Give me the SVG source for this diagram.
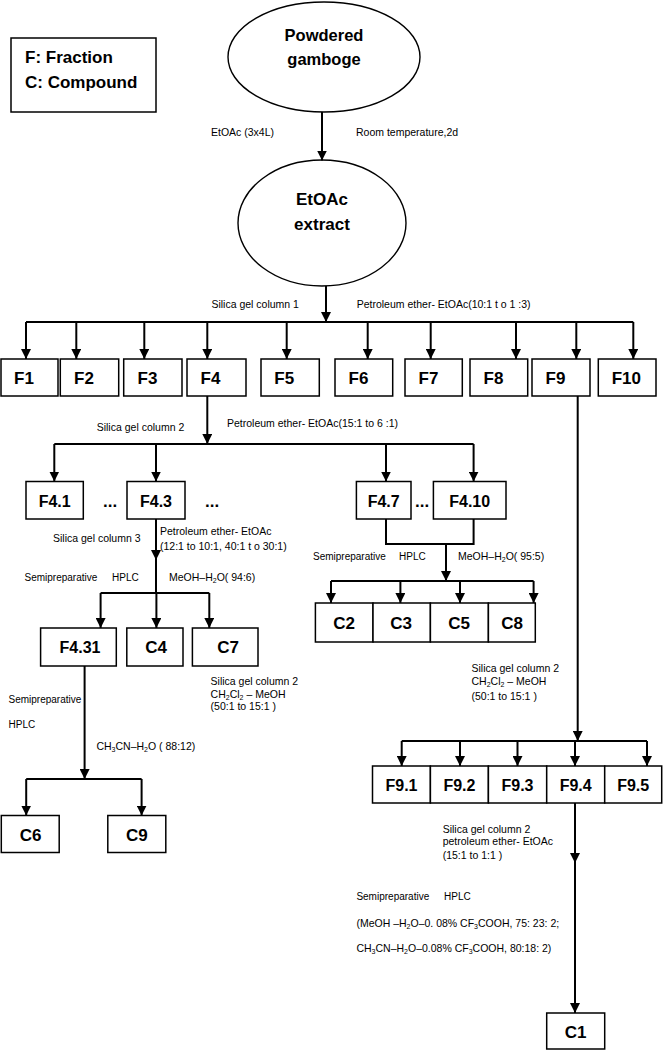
<svg xmlns="http://www.w3.org/2000/svg" width="663" height="1051" viewBox="0 0 663 1051">
<style>
.bx{fill:#fff;stroke:#000;stroke-width:1.5}
.el{fill:#fff;stroke:#000;stroke-width:1.4}
.ln{fill:none;stroke:#000;stroke-width:2}
.ar{fill:none;stroke:#000;stroke-width:2;marker-end:url(#ah)}
.big{font-family:"Liberation Sans",Arial,sans-serif;font-weight:bold;font-size:17px;fill:#000}
.mid{font-family:"Liberation Sans",Arial,sans-serif;font-weight:bold;font-size:16px;fill:#000;text-anchor:middle}
.cb{font-family:"Liberation Sans",Arial,sans-serif;font-weight:bold;font-size:17px;fill:#000;text-anchor:middle}
.sm{font-family:"Liberation Sans",Arial,sans-serif;font-size:10.5px;fill:#000}
.sp{font-family:"Liberation Sans",Arial,sans-serif;font-size:10px;fill:#000}
.sub{font-size:7px}
</style>
<defs>
<marker id="ah" viewBox="0 0 10 10" refX="10" refY="5" markerWidth="10" markerHeight="10" markerUnits="userSpaceOnUse" orient="auto">
<path d="M0,0 L10,5 L0,10 z" fill="#000"/>
</marker>
</defs>

<g id="legend">
<rect class="bx" x="11" y="38" width="145" height="74"/>
<text class="big" x="25" y="63">F: Fraction</text>
<text class="big" x="25" y="88">C: Compound</text>
</g>

<g id="powdered">
<ellipse class="el" cx="324" cy="57" rx="96" ry="55"/>
<text class="cb" x="324" y="41" style="font-size:16.5px">Powdered</text>
<text class="cb" x="324" y="65" style="font-size:16.5px">gamboge</text>
</g>

<g id="extract">
<ellipse class="el" cx="322" cy="223" rx="84" ry="63"/>
<text class="cb" x="322" y="205">EtOAc</text>
<text class="cb" x="322" y="230">extract</text>
</g>

<g id="F-row">
<rect class="bx" x="1" y="359" width="57" height="37"/><text class="big" x="14" y="384">F1</text>
<rect class="bx" x="60.3" y="359" width="58.4" height="37"/><text class="big" x="74" y="384">F2</text>
<rect class="bx" x="123.7" y="359" width="58.3" height="37"/><text class="big" x="137.5" y="384">F3</text>
<rect class="bx" x="187" y="359" width="59" height="37"/><text class="big" x="200.5" y="384">F4</text>
<rect class="bx" x="261" y="359" width="58.3" height="37"/><text class="big" x="274.3" y="384">F5</text>
<rect class="bx" x="335" y="359" width="57.7" height="37"/><text class="big" x="348.5" y="384">F6</text>
<rect class="bx" x="405" y="359" width="57.3" height="37"/><text class="big" x="418.5" y="384">F7</text>
<rect class="bx" x="470" y="359" width="57.7" height="37"/><text class="big" x="483.5" y="384">F8</text>
<rect class="bx" x="532" y="359" width="58" height="37"/><text class="big" x="545.5" y="384">F9</text>
<rect class="bx" x="598.3" y="359" width="57.7" height="37"/><text class="big" x="611.7" y="384">F10</text>
</g>

<g id="F4-sub">
<rect class="bx" x="26" y="481.5" width="57.3" height="37.5"/><text class="mid" x="54.7" y="507">F4.1</text>
<text class="big" x="103" y="507">...</text>
<rect class="bx" x="127" y="481.5" width="58" height="37.5"/><text class="mid" x="156" y="507">F4.3</text>
<text class="big" x="205" y="507">...</text>
<rect class="bx" x="356.4" y="481.5" width="54.6" height="37.5"/><text class="mid" x="383.7" y="507">F4.7</text>
<text class="big" x="415" y="507">...</text>
<rect class="bx" x="433.4" y="481.5" width="72.6" height="37.5"/><text class="mid" x="469.7" y="507">F4.10</text>
</g>

<g id="F43-sub">
<rect class="bx" x="40.6" y="628" width="75.7" height="38"/><text class="mid" x="80" y="653">F4.31</text>
<rect class="bx" x="126.8" y="628" width="56.2" height="38"/><text class="cb" x="156" y="653">C4</text>
<rect class="bx" x="192.4" y="628" width="65.6" height="38"/><text class="cb" x="228" y="653">C7</text>
</g>

<g id="C-row">
<rect class="bx" x="315.4" y="603" width="57.6" height="39"/><text class="cb" x="344" y="629">C2</text>
<rect class="bx" x="373" y="603" width="57.4" height="39"/><text class="cb" x="401" y="629">C3</text>
<rect class="bx" x="430.4" y="603" width="58" height="39"/><text class="cb" x="459" y="629">C5</text>
<rect class="bx" x="488.4" y="603" width="46.9" height="39"/><text class="cb" x="512" y="629">C8</text>
</g>

<g id="C6C9">
<rect class="bx" x="1.3" y="815.5" width="57.9" height="37"/><text class="cb" x="30.5" y="841">C6</text>
<rect class="bx" x="107.8" y="815.5" width="58" height="37"/><text class="cb" x="136.8" y="841">C9</text>
</g>

<g id="F9-sub">
<rect class="bx" x="372.5" y="766" width="57.9" height="37"/><text class="mid" x="401.5" y="790.5">F9.1</text>
<rect class="bx" x="430.4" y="766" width="58" height="37"/><text class="mid" x="459.4" y="790.5">F9.2</text>
<rect class="bx" x="488.4" y="766" width="58.3" height="37"/><text class="mid" x="517.5" y="790.5">F9.3</text>
<rect class="bx" x="546.7" y="766" width="58" height="37"/><text class="mid" x="575.7" y="790.5">F9.4</text>
<rect class="bx" x="604.7" y="766" width="57" height="37"/><text class="mid" x="633.2" y="790.5">F9.5</text>
</g>

<g id="C1">
<rect class="bx" x="546.7" y="1013" width="58" height="36"/><text class="cb" x="575.7" y="1038">C1</text>
</g>

<g id="connectors">
<line class="ar" x1="322" y1="112" x2="322" y2="160.5"/>
<line class="ar" x1="326" y1="286" x2="326" y2="322"/>
<line class="ln" x1="26" y1="322" x2="633.3" y2="322"/>
<line class="ar" x1="26" y1="322" x2="26" y2="359"/>
<line class="ar" x1="76.3" y1="322" x2="76.3" y2="359"/>
<line class="ar" x1="144.3" y1="322" x2="144.3" y2="359"/>
<line class="ar" x1="207.3" y1="322" x2="207.3" y2="359"/>
<line class="ar" x1="286.7" y1="322" x2="286.7" y2="359"/>
<line class="ar" x1="367.7" y1="322" x2="367.7" y2="359"/>
<line class="ar" x1="430.7" y1="322" x2="430.7" y2="359"/>
<line class="ar" x1="516" y1="322" x2="516" y2="359"/>
<line class="ar" x1="576.3" y1="322" x2="576.3" y2="359"/>
<line class="ar" x1="633.3" y1="322" x2="633.3" y2="359"/>

<line class="ar" x1="207.3" y1="396" x2="207.3" y2="444"/>
<line class="ln" x1="54.3" y1="444" x2="473.6" y2="444"/>
<line class="ar" x1="54.3" y1="444" x2="54.3" y2="481.5"/>
<line class="ar" x1="156" y1="444" x2="156" y2="481.5"/>
<line class="ar" x1="386" y1="444" x2="386" y2="481.5"/>
<line class="ar" x1="473.6" y1="444" x2="473.6" y2="481.5"/>

<line class="ar" x1="156" y1="519" x2="156" y2="560"/>
<line class="ln" x1="156" y1="560" x2="156" y2="593"/>
<line class="ln" x1="100.6" y1="593" x2="209.3" y2="593"/>
<line class="ar" x1="100.6" y1="593" x2="100.6" y2="628"/>
<line class="ar" x1="156.4" y1="593" x2="156.4" y2="628"/>
<line class="ar" x1="209.3" y1="593" x2="209.3" y2="628"/>

<polyline class="ln" points="386,519 386,544 473.6,544 473.6,519"/>
<line class="ar" x1="446" y1="544" x2="446" y2="581"/>
<line class="ln" x1="331" y1="581" x2="533.6" y2="581"/>
<line class="ar" x1="331" y1="581" x2="331" y2="603"/>
<line class="ar" x1="400.4" y1="581" x2="400.4" y2="603"/>
<line class="ar" x1="460" y1="581" x2="460" y2="603"/>
<line class="ar" x1="533.6" y1="581" x2="533.6" y2="603"/>

<line class="ar" x1="84.6" y1="666" x2="84.6" y2="779"/>
<line class="ln" x1="26.2" y1="779" x2="141.6" y2="779"/>
<line class="ar" x1="26.2" y1="779" x2="26.2" y2="815.5"/>
<line class="ar" x1="141.6" y1="779" x2="141.6" y2="815.5"/>

<line class="ar" x1="577.7" y1="396" x2="577.7" y2="741"/>
<line class="ln" x1="401.7" y1="741" x2="647" y2="741"/>
<line class="ar" x1="401.7" y1="741" x2="401.7" y2="766"/>
<line class="ar" x1="460" y1="741" x2="460" y2="766"/>
<line class="ar" x1="517.5" y1="741" x2="517.5" y2="766"/>
<line class="ar" x1="575" y1="741" x2="575" y2="766"/>
<line class="ar" x1="647" y1="741" x2="647" y2="766"/>

<line class="ar" x1="575" y1="803" x2="575" y2="863"/>
<line class="ar" x1="575" y1="863" x2="575" y2="1013"/>
</g>

<g id="labels">
<text class="sm" x="211" y="136">EtOAc (3x4L)</text>
<text class="sm" x="356" y="136">Room temperature,2d</text>
<text class="sm" x="211.4" y="307.5">Silica gel column 1</text>
<text class="sm" x="356.7" y="307.5">Petroleum ether- EtOAc(10:1 t o 1 :3)</text>
<text class="sm" x="96.7" y="431">Silica gel column 2</text>
<text class="sm" x="227" y="427">Petroleum ether- EtOAc(15:1 to 6 :1)</text>
<text class="sm" x="53" y="542">Silica gel column 3</text>
<text class="sm" x="160" y="535">Petroleum ether- EtOAc</text>
<text class="sm" x="160" y="549.5">(12:1 to 10:1, 40:1 t o 30:1)</text>
<text class="sp" x="24.5" y="580.5">Semipreparative<tspan x="112">HPLC</tspan></text>
<text class="sm" x="169" y="580.5">MeOH–H<tspan class="sub" dy="2">2</tspan><tspan dy="-2">O( 94:6)</tspan></text>
<text class="sp" x="313" y="559.5">Semipreparative<tspan x="399">HPLC</tspan></text>
<text class="sm" x="458" y="559.5">MeOH–H<tspan class="sub" dy="2">2</tspan><tspan dy="-2">O( 95:5)</tspan></text>
<text class="sm" x="210.6" y="685">Silica gel column 2</text>
<text class="sm" x="210.6" y="697.5">CH<tspan class="sub" dy="2">2</tspan><tspan dy="-2">Cl</tspan><tspan class="sub" dy="2">2</tspan><tspan dy="-2"> – MeOH</tspan></text>
<text class="sm" x="210.6" y="710">(50:1 to 15:1 )</text>
<text class="sp" x="8.5" y="703">Semipreparative</text>
<text class="sp" x="8.5" y="728">HPLC</text>
<text class="sm" x="96.4" y="749.5">CH<tspan class="sub" dy="2">3</tspan><tspan dy="-2">CN–H</tspan><tspan class="sub" dy="2">2</tspan><tspan dy="-2">O ( 88:12)</tspan></text>
<text class="sm" x="471.5" y="671.5">Silica gel column 2</text>
<text class="sm" x="471.5" y="685">CH<tspan class="sub" dy="2">2</tspan><tspan dy="-2">Cl</tspan><tspan class="sub" dy="2">2</tspan><tspan dy="-2"> – MeOH</tspan></text>
<text class="sm" x="471.5" y="699.5">(50:1 to 15:1 )</text>
<text class="sm" x="442.7" y="832.5">Silica gel column 2</text>
<text class="sm" x="442.7" y="845">petroleum ether- EtOAc</text>
<text class="sm" x="442.7" y="858.5">(15:1 to 1:1 )</text>
<text class="sp" x="356.4" y="900">Semipreparative<tspan x="444">HPLC</tspan></text>
<text class="sm" x="356.4" y="927">(MeOH –H<tspan class="sub" dy="2">2</tspan><tspan dy="-2">O–0. 08% CF</tspan><tspan class="sub" dy="2">3</tspan><tspan dy="-2">COOH, 75: 23: 2;</tspan></text>
<text class="sm" x="356.4" y="952">CH<tspan class="sub" dy="2">3</tspan><tspan dy="-2">CN–H</tspan><tspan class="sub" dy="2">2</tspan><tspan dy="-2">O–0.08% CF</tspan><tspan class="sub" dy="2">3</tspan><tspan dy="-2">COOH, 80:18: 2)</tspan></text>
</g>
</svg>
